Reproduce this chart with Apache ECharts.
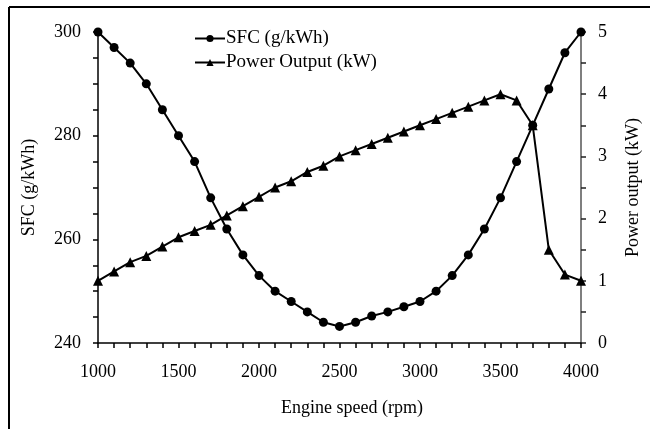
<!DOCTYPE html>
<html>
<head>
<meta charset="utf-8">
<script src="https://cdn.jsdelivr.net/npm/echarts@6/dist/echarts.min.js"></script>
<style>
html,body{margin:0;padding:0;background:#fff;}
#chart{width:650px;height:429px;}
</style>
</head>
<body>
<div id="chart"></div>
<script>
var speeds = [1000,1100,1200,1300,1400,1500,1600,1700,1800,1900,2000,2100,2200,2300,2400,2500,2600,2700,2800,2900,3000,3100,3200,3300,3400,3500,3600,3700,3800,3900,4000];
var sfc = [300,297,294,290,285,280,275,268,262,257,253,250,248,246,244,243.2,244,245.2,246,247,248,250,253,257,262,268,275,282,289,296,300];
var power = [1.0,1.15,1.3,1.4,1.55,1.7,1.8,1.9,2.05,2.2,2.35,2.5,2.6,2.75,2.85,3.0,3.1,3.2,3.3,3.4,3.5,3.6,3.7,3.8,3.9,4.0,3.9,3.5,1.5,1.1,1.0];
var seriesNames = ['SFC (g/kWh)','Power Output (kW)'];
var axisNames = {x:'Engine speed (rpm)', left:'SFC (g/kWh)', right:'Power output (kW)'};

var FONT = '"Liberation Serif","DejaVu Serif",serif';
var chart = echarts.init(document.getElementById('chart'));
function pairs(xs, ys){ return xs.map(function(x,i){return [x, ys[i]];}); }

chart.setOption({
  animation:false,
  backgroundColor:'#fff',
  textStyle:{fontFamily:FONT,color:'#000'},
  grid:{left:98,right:65,top:32,bottom:86,containLabel:false},
  legend:{
    orient:'vertical', left:189, top:24, itemGap:5, itemWidth:30, itemHeight:9,
    data:seriesNames,
    textStyle:{fontFamily:FONT,fontSize:19,color:'#000',padding:[0,0,0,-4]}
  },
  xAxis:{
    type:'value', min:1000, max:4000, interval:500,
    name:axisNames.x, nameLocation:'middle', nameGap:56,
    nameTextStyle:{fontFamily:FONT,fontSize:18,color:'#000',padding:[0,0,0,25]},
    axisLine:{lineStyle:{color:'#000',width:1.5}},
    axisTick:{show:true,inside:false,length:5,lineStyle:{color:'#000',width:1.5}},
    minorTick:{show:true,splitNumber:5,length:5,lineStyle:{color:'#000',width:1.5}},
    axisLabel:{fontFamily:FONT,fontSize:18,color:'#000',margin:20,formatter:function(v){return String(v);}},
    splitLine:{show:false}
  },
  yAxis:[{
    type:'value', min:240, max:300, interval:20, position:'left',
    name:axisNames.left, nameLocation:'middle', nameGap:60,
    nameTextStyle:{fontFamily:FONT,fontSize:18,color:'#000'},
    axisLine:{show:true,lineStyle:{color:'#000',width:1.5}},
    axisTick:{show:true,length:5,lineStyle:{color:'#000',width:1.5}},
    minorTick:{show:true,splitNumber:4,length:5,lineStyle:{color:'#000',width:1.5}},
    axisLabel:{fontFamily:FONT,fontSize:18,color:'#000',margin:17},
    splitLine:{show:false}
  },{
    type:'value', min:0, max:5, interval:1, position:'right',
    name:axisNames.right, nameLocation:'middle', nameGap:43,
    nameTextStyle:{fontFamily:FONT,fontSize:18,color:'#000'},
    axisLine:{show:true,lineStyle:{color:'#555',width:1.5}},
    axisTick:{show:true,length:5,lineStyle:{color:'#222',width:1.5}},
    minorTick:{show:true,splitNumber:2,length:5,lineStyle:{color:'#222',width:1.5}},
    axisLabel:{fontFamily:FONT,fontSize:18,color:'#000',margin:17},
    splitLine:{show:false}
  }],
  series:[{
    name:seriesNames[0], type:'line', yAxisIndex:0,
    data:pairs(speeds,sfc),
    symbol:'circle', symbolSize:9,
    lineStyle:{color:'#000',width:2}, itemStyle:{color:'#000'}
  },{
    name:seriesNames[1], type:'line', yAxisIndex:1,
    data:pairs(speeds,power),
    symbol:'triangle', symbolSize:10,
    lineStyle:{color:'#000',width:2}, itemStyle:{color:'#000'}
  }],
  graphic:[
    {type:'line',shape:{x1:9,y1:7,x2:650,y2:7},style:{stroke:'#000',lineWidth:2}},
    {type:'line',shape:{x1:9,y1:7,x2:9,y2:429},style:{stroke:'#000',lineWidth:2}}
  ]
});
</script>
</body>
</html>
